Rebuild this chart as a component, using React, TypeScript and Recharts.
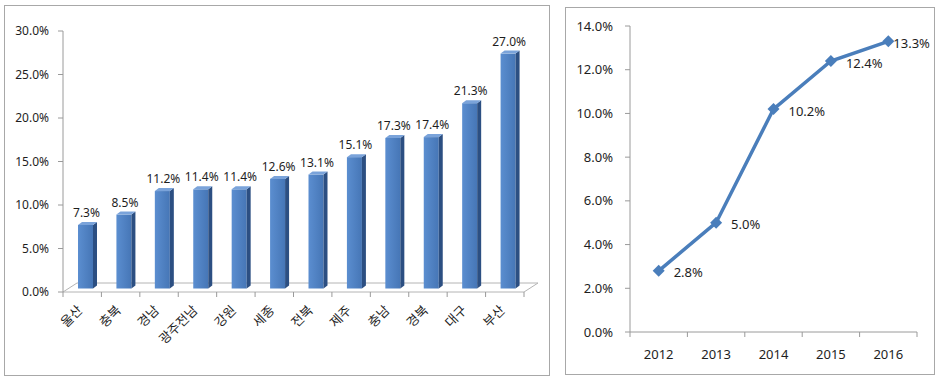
import { Bar, BarChart, LabelList, Line, LineChart, ReferenceArea, XAxis, YAxis } from "recharts";

const regions = ["울산", "충북", "경남", "광주전남", "강원", "세종", "전북", "제주", "충남", "경북", "대구", "부산"];
const regionShare = [7.3, 8.5, 11.2, 11.4, 11.4, 12.6, 13.1, 15.1, 17.3, 17.4, 21.3, 27.0];
const barTicks = [0, 5, 10, 15, 20, 25, 30];

const years = ["2012", "2013", "2014", "2015", "2016"];
const yearShare = [2.8, 5.0, 10.2, 12.4, 13.3];
const lineTicks = [0, 2, 4, 6, 8, 10, 12, 14];

const barData = regions.map((name, i) => ({ name, value: regionShare[i] }));
const lineData = years.map((year, i) => ({ year, value: yearShare[i] }));

const FONT = "'Noto Sans', 'Noto Sans CJK KR', sans-serif";
const TEXT = "#1e1e1e";
const AXIS = "#9a9a9a";
const pct = (v: number) => v.toFixed(1) + "%";

// bar chart plot box (px inside its svg)
const BAR_W = 560;
const BAR_H = 379;
const BAR_M = { top: 31, right: 36, left: 0, bottom: 27 };
const BAR_YW = 63;
const barBand = (BAR_W - BAR_M.left - BAR_M.right - BAR_YW) / regions.length;

// 3d offsets
const SX = 3;
const SY = -3.5;
const DEPTH_X = 4;
const DEPTH_Y = 3;

function Bar3D(props: any) {
  const { x, y, width, height } = props;
  if (height == null || height <= 0) return null;
  const fx = x + SX;
  const fy = y + SY;
  const r = fx + width;
  return (
    <g>
      <rect x={fx} y={fy} width={width} height={height} fill="url(#barFront)" />
      <polygon
        points={`${r},${fy} ${r + DEPTH_X},${fy - DEPTH_Y} ${r + DEPTH_X},${fy + height - DEPTH_Y} ${r},${fy + height}`}
        fill="#2c4f82"
      />
      <polygon
        points={`${fx},${fy} ${r},${fy} ${r + DEPTH_X},${fy - DEPTH_Y} ${fx + DEPTH_X},${fy - DEPTH_Y}`}
        fill="#7aa3da"
      />
    </g>
  );
}

function Floor(props: any) {
  const { x, y, width, height } = props;
  const b = y + height;
  const dx = 14;
  const dy = 9;
  return (
    <polygon
      points={`${x},${b} ${x + width},${b} ${x + width + dx},${b - dy} ${x + dx},${b - dy}`}
      fill="#ffffff"
      stroke="#b4b4b4"
      strokeWidth={1}
    />
  );
}

function BarValue(props: any) {
  const { x, y, width, value } = props;
  return (
    <text x={x + width / 2 + SX + 1} y={y + SY - 8} textAnchor="middle" fontSize={12} fill={TEXT} fontFamily={FONT}>
      {pct(value)}
    </text>
  );
}

function RegionTick(props: any) {
  const { x, y, payload, index } = props;
  const half = barBand / 2;
  const ax = x + 1;
  const ay = y + 19;
  return (
    <g>
      <line x1={x - half} y1={y} x2={x - half} y2={y + 5} stroke={AXIS} />
      {index === regions.length - 1 && <line x1={x + half} y1={y} x2={x + half} y2={y + 5} stroke={AXIS} />}
      <text
        x={ax}
        y={ay}
        textAnchor="end"
        fontSize={13}
        fill={TEXT}
        fontFamily={FONT}
        transform={`rotate(-45 ${ax} ${ay})`}
      >
        {payload.value}
      </text>
    </g>
  );
}

// line chart
const LINE_W = 380;
const LINE_H = 379;
const LINE_M = { top: 26, right: 23, left: 0, bottom: 17 };
const LINE_YW = 70;
const lineBand = (LINE_W - LINE_M.left - LINE_M.right - LINE_YW) / years.length;

function YearTick(props: any) {
  const { x, y, payload, index } = props;
  const half = lineBand / 2;
  return (
    <g>
      <line x1={x - half} y1={y} x2={x - half} y2={y + 5} stroke={AXIS} />
      {index === years.length - 1 && <line x1={x + half} y1={y} x2={x + half} y2={y + 5} stroke={AXIS} />}
      <text x={x} y={y + 22} dy="0.35em" textAnchor="middle" fontSize={13} fill={TEXT} fontFamily={FONT}>
        {payload.value}
      </text>
    </g>
  );
}

function Diamond(props: any) {
  const { cx, cy } = props;
  if (cx == null || cy == null) return null;
  const s = 6;
  return <polygon points={`${cx},${cy - s} ${cx + s},${cy} ${cx},${cy + s} ${cx - s},${cy}`} fill="#4a7ebb" />;
}

function LineValue(props: any) {
  const { x, y, value, index } = props;
  const dx = index === years.length - 1 ? 5 : 15;
  return (
    <text x={x + dx} y={y + 2} dy="0.35em" fontSize={13} fill={TEXT} fontFamily={FONT}>
      {pct(value)}
    </text>
  );
}

export default function App() {
  return (
    <div style={{ position: "absolute", left: 0, top: 0, width: 940, height: 379, background: "#fff", fontFamily: FONT }}>
      <div style={{ position: "absolute", left: 4, top: 5, width: 544, height: 369, border: "1px solid #a8a8a8" }} />
      <div style={{ position: "absolute", left: 565, top: 7, width: 368, height: 366, border: "1px solid #a8a8a8" }} />

      <div style={{ position: "absolute", left: 0, top: 0 }}>
        <BarChart width={BAR_W} height={BAR_H} data={barData} margin={BAR_M} barSize={15}>
          <defs>
            <linearGradient id="barFront" x1="0" y1="0" x2="1" y2="0">
              <stop offset="0%" stopColor="#5b8ed0" />
              <stop offset="100%" stopColor="#4676b6" />
            </linearGradient>
          </defs>
          <ReferenceArea y1={0} y2={1} shape={<Floor />} />
          <XAxis
            dataKey="name"
            axisLine={false}
            tickLine={false}
            tickSize={0}
            tickMargin={0}
            interval={0}
            height={60}
            tick={<RegionTick />}
          />
          <YAxis
            width={BAR_YW}
            domain={[0, 30]}
            ticks={barTicks}
            tickFormatter={pct}
            axisLine={{ stroke: AXIS }}
            tickLine={{ stroke: AXIS }}
            tickSize={5}
            tickMargin={9}
            tick={{ fontSize: 12, fill: TEXT, fontFamily: FONT }}
          />
          <Bar dataKey="value" shape={<Bar3D />} isAnimationActive={false}>
            <LabelList dataKey="value" content={<BarValue />} />
          </Bar>
        </BarChart>
      </div>

      <div style={{ position: "absolute", left: 560, top: 0 }}>
        <LineChart width={LINE_W} height={LINE_H} data={lineData} margin={LINE_M}>
          <XAxis
            dataKey="year"
            scale="band"
            axisLine={{ stroke: AXIS }}
            tickLine={false}
            tickSize={0}
            tickMargin={0}
            interval={0}
            height={30}
            tick={<YearTick />}
          />
          <YAxis
            width={LINE_YW}
            domain={[0, 14]}
            ticks={lineTicks}
            tickFormatter={pct}
            axisLine={{ stroke: AXIS }}
            tickLine={{ stroke: AXIS }}
            tickSize={5}
            tickMargin={12}
            tick={{ fontSize: 13, fill: TEXT, fontFamily: FONT }}
          />
          <Line
            dataKey="value"
            stroke="#4a7ebb"
            strokeWidth={3.5}
            dot={<Diamond />}
            activeDot={false}
            isAnimationActive={false}
          >
            <LabelList dataKey="value" content={<LineValue />} />
          </Line>
        </LineChart>
      </div>
    </div>
  );
}
